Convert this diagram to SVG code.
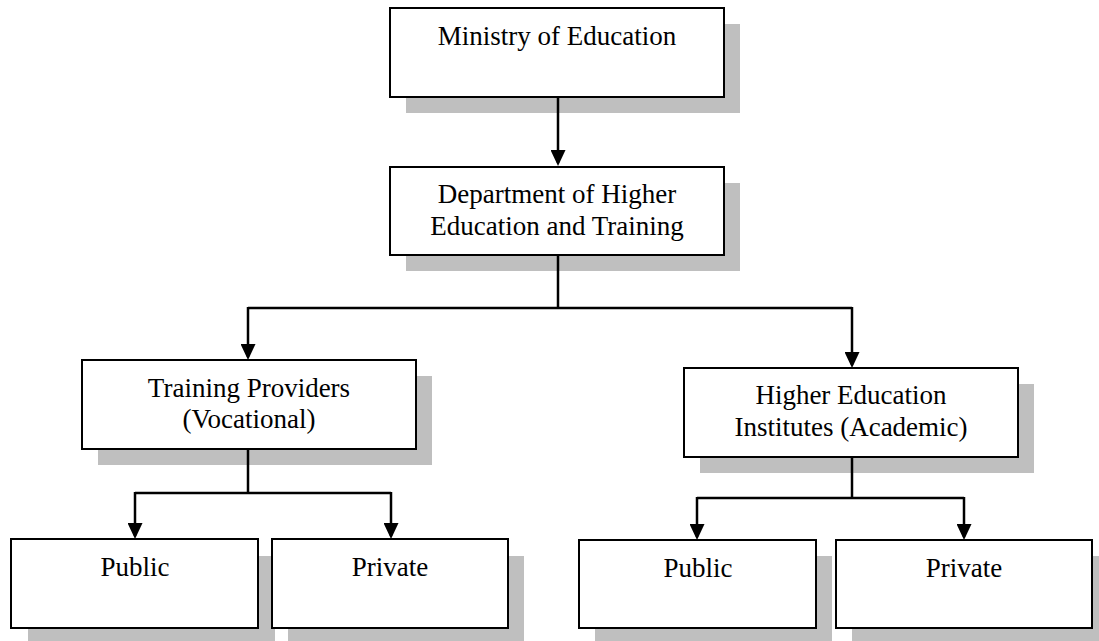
<svg xmlns="http://www.w3.org/2000/svg" width="1099" height="641" viewBox="0 0 1099 641">
<style>
.box{fill:#ffffff;stroke:#000000;stroke-width:2}
.sh{fill:#bfbfbf;stroke:none}
.t{font-family:"Liberation Serif","Times New Roman",serif;font-size:27px;fill:#000000;text-anchor:middle}
.c{fill:none;stroke:#000000;stroke-width:2.5}
</style>
<defs>
<marker id="arr" markerUnits="userSpaceOnUse" viewBox="0 0 16 15" refX="13" refY="7.5" markerWidth="16" markerHeight="15" orient="auto">
<path d="M0,0 L16,7.5 L0,15 Z" fill="#000000"/>
</marker>
</defs>
<rect width="1099" height="641" fill="#ffffff"/>
<g id="ministry">
<rect class="sh" x="406" y="24" width="334" height="89"/>
<rect class="box" x="390" y="8" width="334" height="89"/>
<text class="t" x="557" y="45">Ministry of Education</text>
</g>
<g id="dhet">
<rect class="sh" x="406" y="183" width="334" height="88"/>
<rect class="box" x="390" y="167" width="334" height="88"/>
<text class="t" x="557" y="203">Department of Higher</text>
<text class="t" x="557" y="235">Education and Training</text>
</g>
<g id="training">
<rect class="sh" x="98" y="376" width="334" height="89"/>
<rect class="box" x="82" y="360" width="334" height="89"/>
<text class="t" x="249" y="397">Training Providers</text>
<text class="t" x="249" y="428">(Vocational)</text>
</g>
<g id="hei">
<rect class="sh" x="700" y="384" width="334" height="89"/>
<rect class="box" x="684" y="368" width="334" height="89"/>
<text class="t" x="851" y="404">Higher Education</text>
<text class="t" x="851" y="436">Institutes (Academic)</text>
</g>
<g id="public-voc">
<rect class="sh" x="28" y="556" width="247" height="88"/>
<rect class="box" x="11" y="539" width="247" height="89"/>
<text class="t" x="135" y="576">Public</text>
</g>
<g id="private-voc">
<rect class="sh" x="288" y="556" width="236" height="88"/>
<rect class="box" x="272" y="539" width="236" height="89"/>
<text class="t" x="390" y="576">Private</text>
</g>
<g id="public-acad">
<rect class="sh" x="595" y="556" width="237" height="88"/>
<rect class="box" x="579" y="540" width="237" height="88"/>
<text class="t" x="698" y="577">Public</text>
</g>
<g id="private-acad">
<rect class="sh" x="852" y="556" width="256" height="88"/>
<rect class="box" x="836" y="540" width="256" height="88"/>
<text class="t" x="964" y="577">Private</text>
</g>
<g id="connectors">
<path class="c" d="M558,97 V163" marker-end="url(#arr)"/>
<path class="c" d="M558,255 V308"/>
<path class="c" d="M248,308 H852"/>
<path class="c" d="M248,307 V357" marker-end="url(#arr)"/>
<path class="c" d="M852,307 V365" marker-end="url(#arr)"/>
<path class="c" d="M248,449 V493"/>
<path class="c" d="M135,493 H391"/>
<path class="c" d="M135,492 V536" marker-end="url(#arr)"/>
<path class="c" d="M391,492 V536" marker-end="url(#arr)"/>
<path class="c" d="M852,457 V498"/>
<path class="c" d="M697,498 H964"/>
<path class="c" d="M697,497 V537" marker-end="url(#arr)"/>
<path class="c" d="M964,497 V537" marker-end="url(#arr)"/>
</g>
</svg>
